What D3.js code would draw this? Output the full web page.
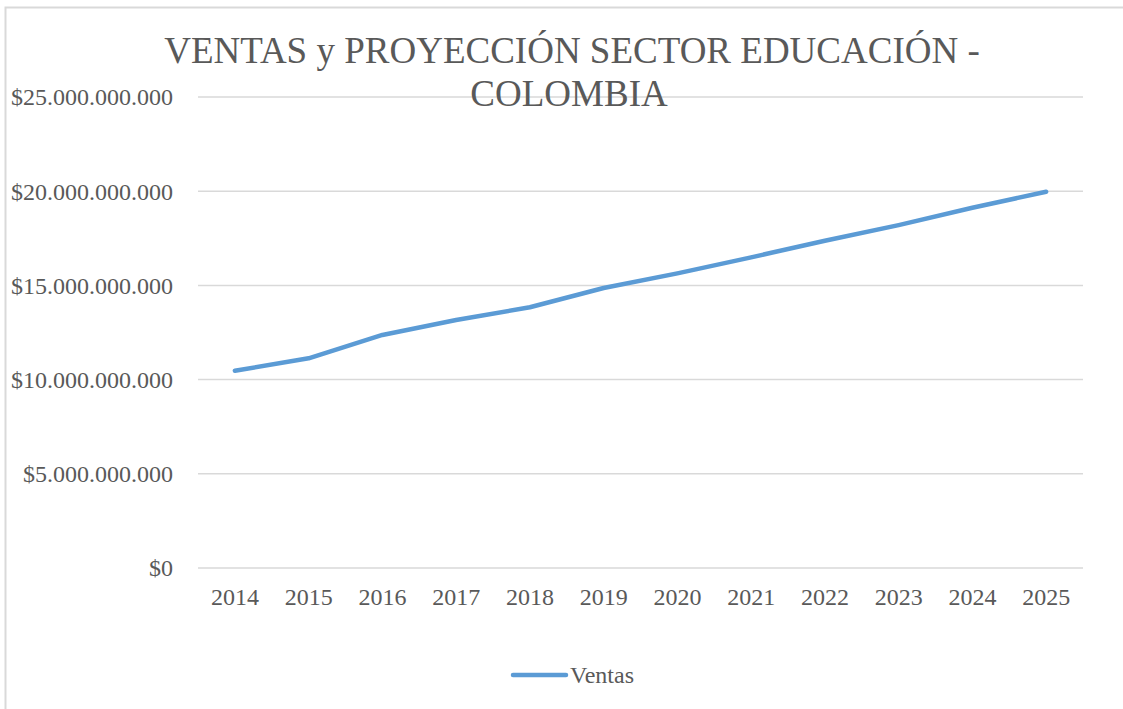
<!DOCTYPE html>
<meta charset="utf-8">
<style>
    body { margin: 0; background: #fff; }
    text { font-family: "Liberation Serif", "Times New Roman", serif; fill: #595959; }
    .grid line { stroke: #d9d9d9; stroke-width: 1.5px; }
    .line { fill: none; stroke: #5b9bd5; stroke-width: 4.5px; stroke-linecap: round; stroke-linejoin: round; }
</style>
<body>
<script src="https://d3js.org/d3.v7.min.js"></script>
<script>
    var years = ["2014", "2015", "2016", "2017", "2018", "2019", "2020", "2021", "2022", "2023", "2024", "2025"];
    var ventas = [10.47e9, 11.13e9, 12.37e9, 13.16e9, 13.84e9, 14.86e9, 15.64e9, 16.49e9, 17.37e9, 18.2e9, 19.12e9, 19.97e9];
    var yTicks = [0, 5e9, 10e9, 15e9, 20e9, 25e9];

    var W = 1123, H = 709;
    var margin = { top: 97, right: 40, bottom: 141, left: 198 };

    var svg = d3.select("body").append("svg")
        .attr("width", W)
        .attr("height", H);

    // chart border
    svg.append("rect")
        .attr("x", 5.5).attr("y", 7.5)
        .attr("width", W + 10).attr("height", H + 10)
        .attr("fill", "none")
        .attr("stroke", "#d9d9d9")
        .attr("stroke-width", 2);

    var x = d3.scaleBand().domain(years).range([margin.left, W - margin.right]);
    var y = d3.scaleLinear().domain([0, 25e9]).range([H - margin.bottom, margin.top]);

    var fmt = function(v) {
        return "$" + d3.format(",")(v).replace(/,/g, ".");
    };

    // gridlines
    svg.append("g")
        .attr("class", "grid")
        .selectAll("line")
        .data(yTicks)
        .enter().append("line")
        .attr("x1", margin.left)
        .attr("x2", W - margin.right)
        .attr("y1", function(d) { return y(d); })
        .attr("y2", function(d) { return y(d); });

    // y labels
    svg.append("g")
        .selectAll("text")
        .data(yTicks)
        .enter().append("text")
        .attr("x", 173)
        .attr("y", function(d) { return y(d); })
        .attr("dy", "0.35em")
        .attr("text-anchor", "end")
        .style("font-size", "24px")
        .text(fmt);

    // x labels
    svg.append("g")
        .selectAll("text")
        .data(years)
        .enter().append("text")
        .attr("x", function(d) { return x(d) + x.bandwidth() / 2; })
        .attr("y", y(0) + 37)
        .attr("text-anchor", "middle")
        .style("font-size", "24px")
        .text(function(d) { return d; });

    var line = d3.line()
        .x(function(d, i) { return x(years[i]) + x.bandwidth() / 2; })
        .y(function(d) { return y(d); });

    svg.append("path")
        .datum(ventas)
        .attr("class", "line")
        .attr("d", line);

    // title
    var title = svg.append("text")
        .attr("x", 572)
        .attr("y", 63)
        .attr("text-anchor", "middle")
        .style("font-size", "37px");
    title.append("tspan").attr("x", 572).text("VENTAS y PROYECCIÓN SECTOR EDUCACIÓN -");
    title.append("tspan").attr("x", 569).attr("dy", 43).text("COLOMBIA");

    // legend
    svg.append("line")
        .attr("x1", 513).attr("x2", 566)
        .attr("y1", 675).attr("y2", 675)
        .attr("stroke", "#5b9bd5")
        .attr("stroke-width", 4.5)
        .attr("stroke-linecap", "round");
    svg.append("text")
        .attr("x", 570)
        .attr("y", 675)
        .attr("dy", "0.35em")
        .style("font-size", "24px")
        .text("Ventas");
</script>
</body>
